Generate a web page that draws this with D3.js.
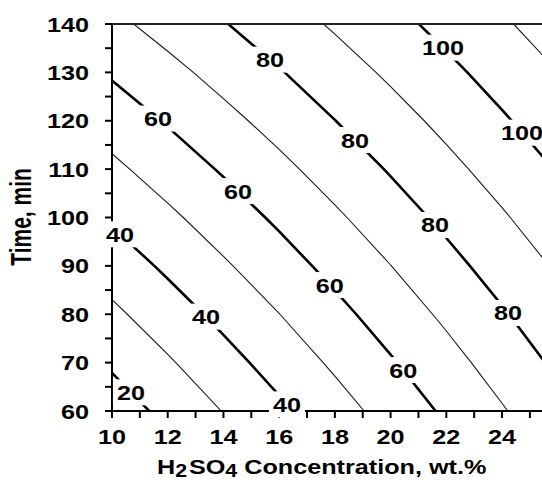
<!DOCTYPE html>
<html>
<head>
<meta charset="utf-8">
<script src="https://cdn.jsdelivr.net/npm/d3@7"></script>
<style>
  html, body { margin: 0; padding: 0; background: #fff; }
  svg { display: block; }
  text { font-family: "Liberation Sans", Arial, sans-serif; font-weight: bold; fill: #000; }
</style>
</head>
<body>
<svg id="chart" width="542" height="482"></svg>
<script>
// Response surface grid: yield (%) over H2SO4 concentration (columns) and time (rows)
const concentration = [8, 10, 12, 14, 16, 18, 20, 22, 24, 26, 28];
const time = [50, 60, 70, 80, 90, 100, 110, 120, 130, 140, 150];
const yieldGrid = [
  [0.1, 8.2, 16.2, 24.2, 32.2, 40.2, 48.3, 56.3, 64.3, 72.3, 80.3],
  [7.0, 14.8, 22.6, 30.3, 38.1, 45.9, 53.7, 61.5, 69.2, 77.0, 84.8],
  [13.9, 21.4, 28.9, 36.5, 44.0, 51.6, 59.1, 66.6, 74.2, 81.7, 89.3],
  [20.7, 28.0, 35.3, 42.6, 49.9, 57.2, 64.5, 71.8, 79.1, 86.4, 93.7],
  [27.6, 34.6, 41.7, 48.8, 55.8, 62.9, 69.9, 77.0, 84.1, 91.1, 98.2],
  [34.4, 41.3, 48.1, 54.9, 61.7, 68.5, 75.4, 82.2, 89.0, 95.8, 102.6],
  [41.3, 47.9, 54.5, 61.0, 67.6, 74.2, 80.8, 87.4, 93.9, 100.5, 107.1],
  [48.2, 54.5, 60.8, 67.2, 73.5, 79.9, 86.2, 92.5, 98.9, 105.2, 111.6],
  [55.0, 61.1, 67.2, 73.3, 79.4, 85.5, 91.6, 97.7, 103.8, 109.9, 116.0],
  [61.9, 67.7, 73.6, 79.5, 85.3, 91.2, 97.0, 102.9, 108.8, 114.6, 120.5],
  [68.7, 74.4, 80.0, 85.6, 91.2, 96.8, 102.5, 108.1, 113.7, 119.3, 124.9]
];

const contourLevels = [20, 30, 40, 50, 60, 70, 80, 90, 100, 110];
const majorLevels = [20, 40, 60, 80, 100];

// where each labelled contour carries its value (concentration along the line)
const labelLevel = [20, 40, 40, 40, 60, 60, 60, 60, 80, 80, 80, 80, 100, 100];
const labelConc = [10.68, 10.29, 13.37, 16.28, 11.65, 14.52, 17.82, 20.45, 15.67, 18.72, 21.59, 24.21, 21.88, 24.72];

const xMajorTicks = [10, 12, 14, 16, 18, 20, 22, 24];
const xMinorTicks = [11, 13, 15, 17, 19, 21, 23, 25];
const yMajorTicks = [60, 70, 80, 90, 100, 110, 120, 130, 140];
const yMinorTicks = [65, 75, 85, 95, 105, 115, 125, 135];

const xTitle = ["H", "2", "SO", "4", " Concentration, wt.%"];
const yTitle = "Time, min";

const svg = d3.select("#chart");
const plotLeft = 112, plotTop = 24, plotBottom = 411;
const x = d3.scaleLinear([10, 26], [plotLeft, plotLeft + 16 * 27.86]);
const y = d3.scaleLinear([60, 140], [plotBottom, plotTop]);
const FS = 21, SX = 1.2;

// contour geometry in grid units -> data units -> pixels
const nx = concentration.length, ny = time.length;
const gx = d3.scaleLinear([0.5, nx - 0.5], [concentration[0], concentration[nx - 1]]);
const gy = d3.scaleLinear([0.5, ny - 0.5], [time[0], time[ny - 1]]);
const contours = d3.contours().size([nx, ny]).thresholds(contourLevels)(yieldGrid.flat());
const path = d3.geoPath(d3.geoTransform({
  point(px, py) { this.stream.point(x(gx(px)), y(gy(py))); }
}));

svg.append("clipPath").attr("id", "plot-clip")
  .append("rect").attr("x", plotLeft).attr("y", plotTop)
  .attr("width", x(26) - plotLeft).attr("height", plotBottom - plotTop);

svg.append("g").attr("clip-path", "url(#plot-clip)")
  .selectAll("path").data(contours).join("path")
  .attr("d", path)
  .attr("fill", "none")
  .attr("stroke", d => majorLevels.includes(d.value) ? "#000" : "#1a1a1a")
  .attr("stroke-width", d => majorLevels.includes(d.value) ? 2.6 : 1.1)
  .attr("stroke-linejoin", "round");

// frame: left and bottom axes plus the top border
const axis = svg.append("g").attr("stroke", "#000").attr("stroke-width", 2).attr("fill", "none");
axis.append("line").attr("x1", plotLeft).attr("x2", x(26)).attr("y1", plotBottom).attr("y2", plotBottom);
axis.append("line").attr("x1", plotLeft).attr("x2", plotLeft).attr("y1", plotTop - 1).attr("y2", plotBottom + 1);
axis.append("line").attr("x1", plotLeft).attr("x2", x(26)).attr("y1", plotTop).attr("y2", plotTop).attr("stroke", "#222");

const tickLen = 7;
axis.selectAll(".xt").data(xMajorTicks.concat(xMinorTicks)).join("line")
  .attr("x1", d => x(d)).attr("x2", d => x(d))
  .attr("y1", plotBottom).attr("y2", plotBottom + tickLen);
axis.selectAll(".yt").data(yMajorTicks.concat(yMinorTicks)).join("line")
  .attr("x1", plotLeft - tickLen).attr("x2", plotLeft)
  .attr("y1", d => y(d)).attr("y2", d => y(d));

svg.append("g").selectAll("text").data(xMajorTicks).join("text")
  .attr("transform", d => `translate(${x(d)},444) scale(${SX},1)`)
  .attr("text-anchor", "middle").attr("font-size", FS)
  .text(d => d);

svg.append("g").selectAll("text").data(yMajorTicks).join("text")
  .attr("transform", d => `translate(89,${y(d) + 7.5}) scale(${SX},1)`)
  .attr("text-anchor", "end").attr("font-size", FS)
  .text(d => d);

// axis titles
const xt = svg.append("text")
  .attr("transform", `translate(157,474) scale(${SX},1)`)
  .attr("font-size", FS);
xTitle.forEach((s, i) => {
  const sub = i === 1 || i === 3;
  xt.append("tspan")
    .attr("dy", i === 0 ? 0 : (sub ? 3 : -3))
    .attr("dx", i === 2 ? 1.5 : 0)
    .attr("font-size", sub ? FS * 0.85 : FS)
    .text(s);
});

svg.append("text")
  .attr("transform", "translate(31,217) rotate(-90) scale(1,1.4)")
  .attr("text-anchor", "middle").attr("font-size", FS)
  .text(yTitle);

// place value labels on their contour lines
function timeOnLevel(level, conc) {
  const c = contours.find(d => d.value === level);
  let found = null;
  c.coordinates.forEach(poly => poly.forEach(ring => {
    for (let i = 1; i < ring.length; i++) {
      const ax = gx(ring[i - 1][0]), ay = gy(ring[i - 1][1]);
      const bx = gx(ring[i][0]), by = gy(ring[i][1]);
      if (ax !== bx && (ax - conc) * (bx - conc) <= 0) {
        const t = ay + (by - ay) * (conc - ax) / (bx - ax);
        if (t >= 60 && t <= 140) found = t;
      }
    }
  }));
  return found;
}

const labels = svg.append("g");
labelLevel.forEach((lev, i) => {
  const t = timeOnLevel(lev, labelConc[i]);
  if (t === null) return;
  const cx = x(labelConc[i]), cy = y(t);
  const g = labels.append("g");
  const rect = g.append("rect").attr("fill", "#fff");
  const txt = g.append("text")
    .attr("transform", `translate(${cx},${cy + 7.5}) scale(${SX},1)`)
    .attr("text-anchor", "middle").attr("font-size", FS)
    .text(lev);
  const w = txt.node().getComputedTextLength() * SX + 8;
  rect.attr("x", cx - w / 2).attr("y", cy - 13).attr("width", w).attr("height", 26);
});
</script>
</body>
</html>
